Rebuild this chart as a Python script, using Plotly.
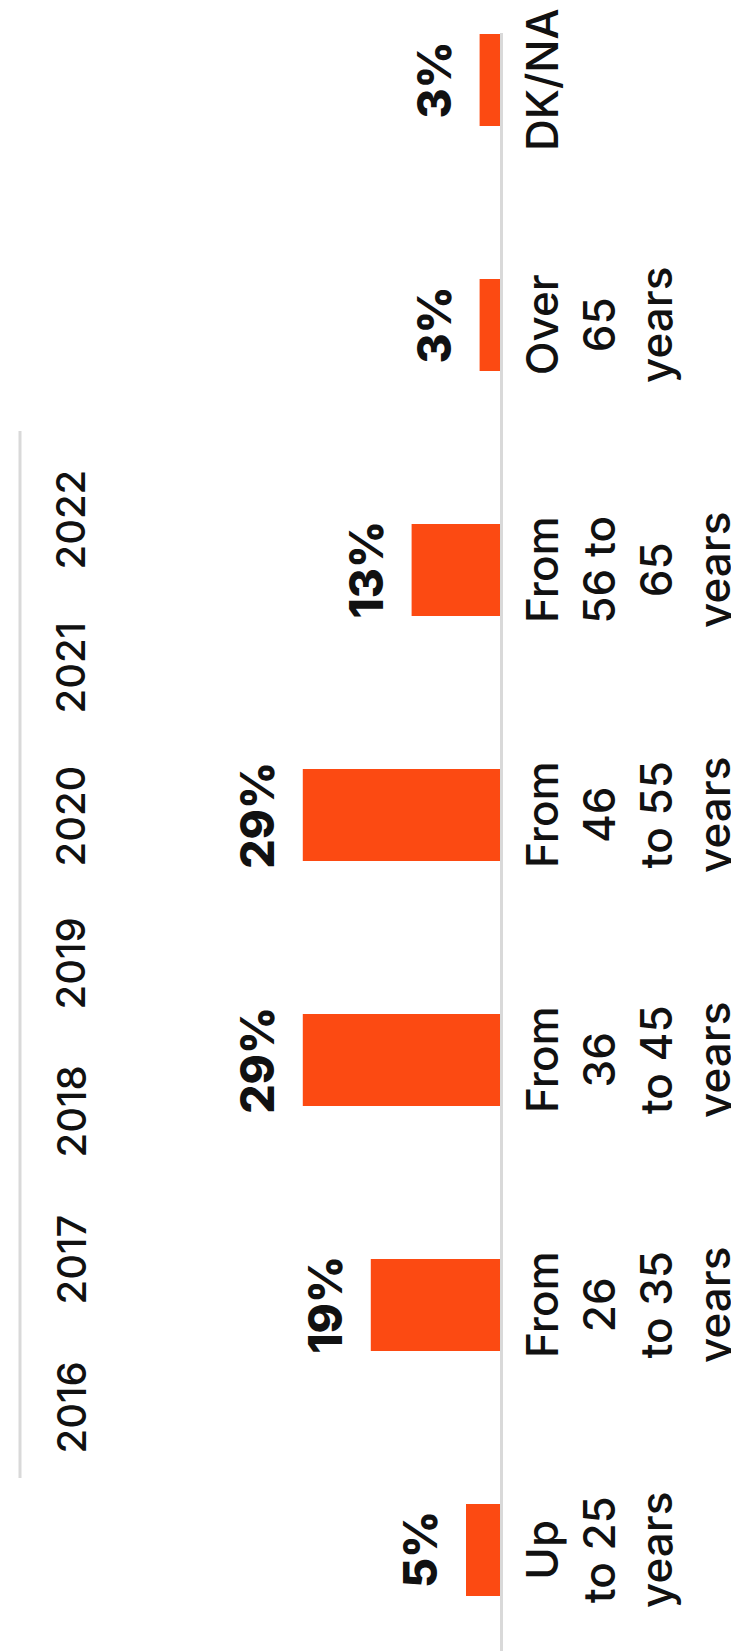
import plotly.graph_objects as go

# Data
categories = ["Up to 25 years", "From 26 to 35 years", "From 36 to 45 years",
              "From 46 to 55 years", "From 56 to 65 years", "Over 65 years", "DK/NA"]
category_labels = ["Up<br>to 25<br>years", "From<br>26<br>to 35<br>years",
                   "From<br>36<br>to 45<br>years", "From<br>46<br>to 55<br>years",
                   "From<br>56 to<br>65<br>years", "Over<br>65<br>years", "DK/NA"]
values = [5, 19, 29, 29, 13, 3, 3]
years = ["2016", "2017", "2018", "2019", "2020", "2021", "2022"]

BAR = "#FC4A12"
INK = "#111111"
LINE = "#d9d9d9"
FONT = "Inter"

W, H = 739, 1651
M_T, M_B, M_L, M_R = 25, 6, 0, 247
plot_h = H - M_T - M_B
plot_w = W - M_L - M_R

fig = go.Figure(go.Bar(
    y=categories, x=values, orientation="h",
    marker=dict(color=BAR, line=dict(width=0)),
    width=0.375, hoverinfo="skip",
))

annotations = []
for cat, lab in zip(categories, category_labels):
    annotations.append(dict(
        x=0, y=cat, xref="x", yref="y", text=lab, showarrow=False,
        textangle=-90, xanchor="left", yanchor="middle", xshift=13,
        align="center", font=dict(family=FONT, size=44, color=INK, weight=500),
    ))
for cat, v in zip(categories, values):
    annotations.append(dict(
        x=v, y=cat, xref="x", yref="y", text=f"{v}%", showarrow=False,
        textangle=-90, xanchor="right", yanchor="middle", xshift=-16,
        font=dict(family=FONT, size=46, color=INK, weight=800),
    ))
for i, yr in enumerate(years):
    ypx = 1400 - 148 * i
    annotations.append(dict(
        x=62.5 / plot_w, y=(H - M_B - ypx) / plot_h, xref="paper", yref="paper",
        text=yr, showarrow=False, textangle=-90, xanchor="center", yanchor="middle",
        font=dict(family=FONT, size=40, color=INK, weight=500),
    ))

fig.update_layout(
    width=W, height=H,
    margin=dict(l=M_L, r=M_R, t=M_T, b=M_B),
    paper_bgcolor="white", plot_bgcolor="white",
    showlegend=False,
    xaxis=dict(range=[72.35, 0], visible=False, fixedrange=True),
    yaxis=dict(type="category", range=[-0.4204, 6.1918], side="right",
               showticklabels=False, showgrid=False, zeroline=False,
               showline=True, linecolor=LINE, linewidth=3, ticks="", fixedrange=True),
    annotations=annotations,
    shapes=[dict(type="line", xref="paper", yref="paper",
                 x0=12 / plot_w, x1=12 / plot_w,
                 y0=(H - M_B - 423) / plot_h, y1=(H - M_B - 1470) / plot_h,
                 line=dict(color=LINE, width=3))],
)

fig.write_html("out.html", config={"displayModeBar": False})
